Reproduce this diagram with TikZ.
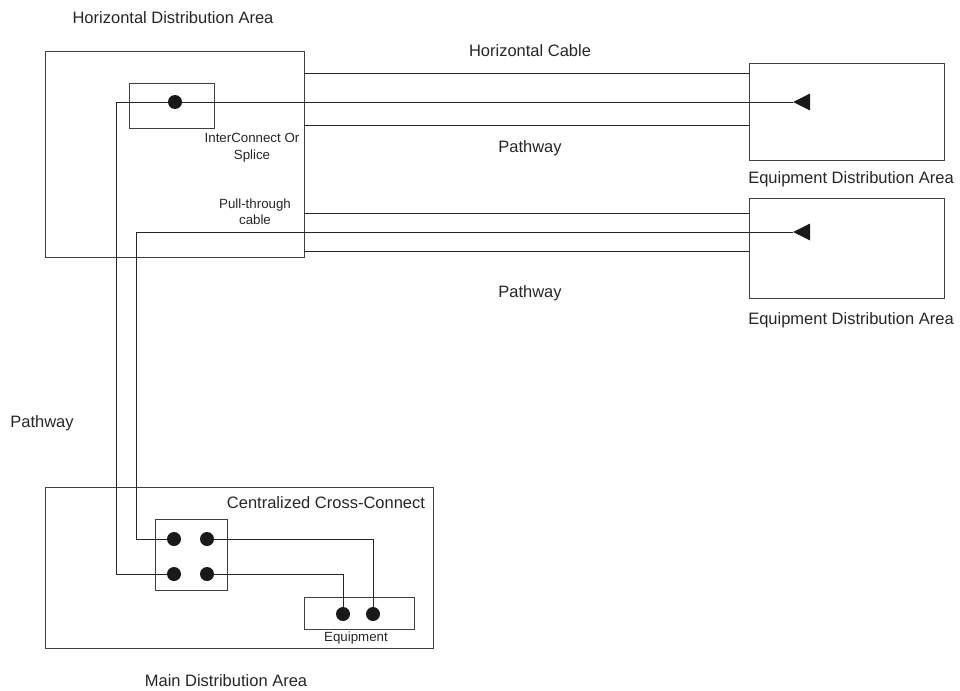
\documentclass[tikz,border=0pt]{standalone}
\usepackage{fontspec}
\setmainfont{Liberation Sans}
\begin{document}
\begin{tikzpicture}[x=1pt,y=-1pt,
  box/.style={draw=black!75,line width=0.9pt,rectangle,inner sep=0pt},
  wire/.style={draw=black!85,line width=0.9pt},
  dot/.style={circle,fill=black!90,inner sep=0pt,minimum size=14pt},
  lbl/.style={font=\fontsize{16.5}{19}\selectfont,text=black!85,inner sep=0pt},
  slbl/.style={font=\fontsize{13.3}{16.5}\selectfont,text=black!85,inner sep=0pt,align=center}]
\useasboundingbox (0,0) rectangle (960,690);

% boxes
\node[box,minimum width=259pt,minimum height=206pt] (hda) at (174.5,154) {};
\node[box,minimum width=85pt,minimum height=45pt] (ic) at (171.5,105.5) {};
\node[box,minimum width=195pt,minimum height=97pt] (eda1) at (846.5,111.5) {};
\node[box,minimum width=195pt,minimum height=100pt] (eda2) at (846.5,248) {};
\node[box,minimum width=388pt,minimum height=161pt] (mda) at (239,567.5) {};
\node[box,minimum width=72pt,minimum height=71pt] (cc) at (191,554.5) {};
\node[box,minimum width=110pt,minimum height=32pt] (eq) at (359,613) {};

% dot positions
\coordinate (icdot) at (175,102);
\coordinate (d1) at (174,539);
\coordinate (d2) at (207,539);
\coordinate (d3) at (174,574);
\coordinate (d4) at (207,574);
\coordinate (e1) at (343,614);
\coordinate (e2) at (373,614);
\coordinate (a1) at (793,102);
\coordinate (a2) at (793,232);
\coordinate (k1) at (116,102);
\coordinate (k2) at (136,232);

% pathway lines
\draw[wire] (hda.east |- 0,73) -- (eda1.west |- 0,73);
\draw[wire] (hda.east |- 0,125) -- (eda1.west |- 0,125);
\draw[wire] (hda.east |- 0,213) -- (eda2.west |- 0,213);
\draw[wire] (hda.east |- 0,251) -- (eda2.west |- 0,251);

% cables
\draw[wire] (a1) -- (icdot);
\draw[wire] (icdot) -- (k1) |- (d3);
\draw[wire] (a2) -- (k2) |- (d1);
\draw[wire] (d2) -| (e2);
\draw[wire] (d4) -| (e1);

% arrowheads
\fill[black!90] (a1) -- ++(17,-8.5) -- ++(0,17) -- cycle;
\fill[black!90] (a2) -- ++(17,-8.5) -- ++(0,17) -- cycle;

% dots
\foreach \p in {icdot,d1,d2,d3,d4,e1,e2} \node[dot] at (\p) {};

% labels
\node[lbl] (t1) at (173,18) {Horizontal Distribution Area};
\node[lbl] (t2) at (530,51) {Horizontal Cable};
\node[lbl] (t3) at (530,148) {Pathway};
\node[slbl] (t4) at (252,147.5) {InterConnect Or\\Splice};
\node[slbl] (t5) at (255,211.5) {Pull-through\\cable};
\node[lbl] (t6) at (851,179) {Equipment Distribution Area};
\node[lbl] (t7) at (530,293) {Pathway};
\node[lbl] (t8) at (851,320) {Equipment Distribution Area};
\node[lbl] (t9) at (42,423) {Pathway};
\node[lbl] (t10) at (326,503) {Centralized Cross-Connect};
\node[slbl] (t11) at (356,638) {Equipment};
\node[lbl] (t12) at (226,680.5) {Main Distribution Area};
\end{tikzpicture}
\end{document}
